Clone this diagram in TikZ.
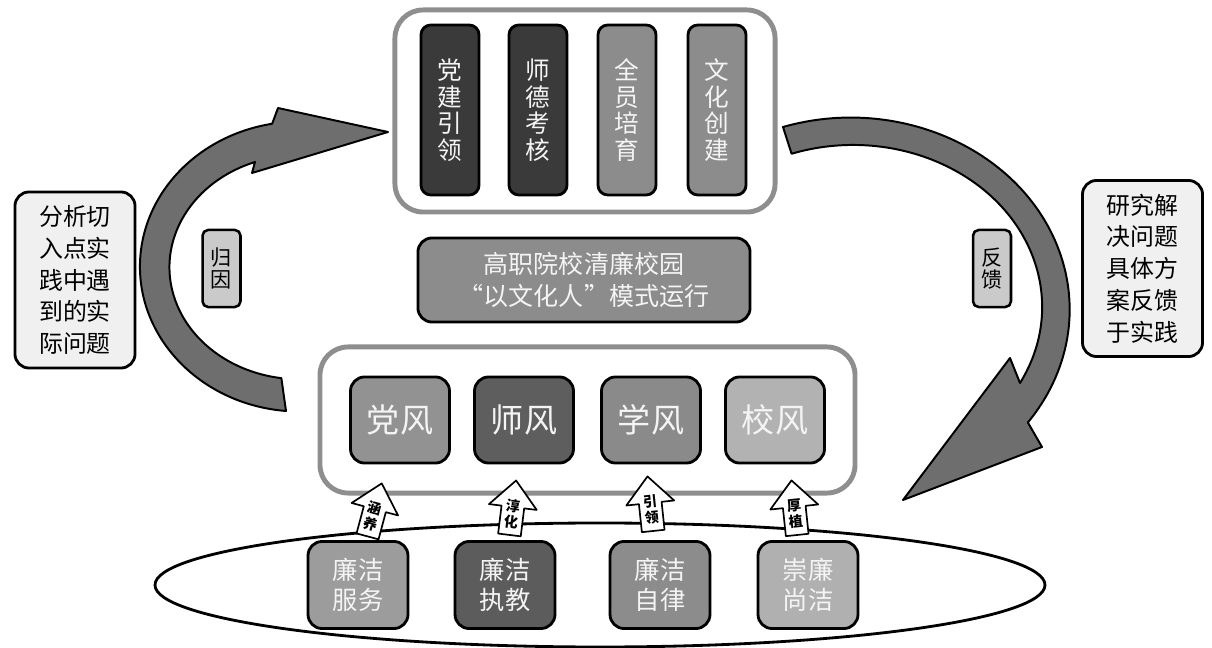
\documentclass[tikz,border=0pt]{standalone}
\usepackage{fontspec}
\setmainfont{Noto Sans CJK SC}
\usetikzlibrary{shapes.arrows}
\definecolor{barDark}{HTML}{3A3A3A}
\definecolor{barGray}{HTML}{8C8C8C}
\definecolor{frameGray}{HTML}{8E8E8E}
\definecolor{arcGray}{HTML}{6E6E6E}
\definecolor{noteFill}{HTML}{F0F0F0}
\definecolor{tagFill}{HTML}{CACACA}
\definecolor{softWhite}{HTML}{F4F4F4}
\begin{document}
\begin{tikzpicture}[x=0.025cm, y=-0.025cm, line join=round,
    frame/.style={draw=frameGray, line width=3.5pt, rounded corners=20pt},
    bar/.style={draw=black, line width=2pt, rounded corners=7pt, minimum width=41.3pt, minimum height=120.9pt,
      text=softWhite, align=center, inner sep=0pt, font=\fontsize{17.5}{18.9}\selectfont},
    fengbox/.style={draw=black, line width=2pt, rounded corners=10pt, minimum width=70.4pt, minimum height=61.2pt,
      text=softWhite, font=\fontsize{23.5}{26}\selectfont},
    basebox/.style={draw=black, line width=2pt, rounded corners=10pt, minimum width=71.1pt, minimum height=61.9pt,
      text=softWhite, align=center, inner sep=0pt, font=\fontsize{18}{21.3}\selectfont},
    note/.style={draw=black, fill=noteFill, line width=2pt, rounded corners=10pt, minimum width=85.4pt, minimum height=125.2pt,
      align=center, inner sep=0pt, font=\fontsize{17}{22.6}\selectfont},
    tag/.style={draw=black, fill=tagFill, line width=1.8pt, rounded corners=4pt, minimum width=27pt, minimum height=54.8pt,
      align=center, inner sep=0pt, font=\fontsize{15}{15.8}\selectfont},
    uparrow/.style={single arrow, shape border rotate=90, draw=black, fill=white, line width=1.2pt,
      single arrow head extend=9pt, single arrow tip angle=84, minimum height=39pt,
      inner xsep=2.5pt, inner ysep=1pt, align=center, font=\bfseries\fontsize{10}{11.5}\selectfont},
    bigarc/.style={draw=black, fill=arcGray, line width=1.4pt}]
  \useasboundingbox (0,0) rectangle (1212,648);
  % top group
  \node[frame, minimum width=270.3pt, minimum height=143.7pt] (top) at (585,111) {};
  \foreach \x/\t/\c [count=\i] in {450/党\\建\\引\\领/barDark, 538/师\\德\\考\\核/barDark,
      627/全\\员\\培\\育/barGray, 717/文\\化\\创\\建/barGray}
    \node[bar, fill=\c] (bar\i) at (\x,110) {\t};
  \node[draw=black, fill=barGray, line width=2pt, rounded corners=10pt, minimum width=236.2pt, minimum height=59.8pt,
    text=softWhite, align=center, font=\fontsize{17.8}{22.8}\selectfont] (mode) at (584,280)
    {高职院校清廉校园\\“以文化人”模式运行};
  % middle group
  \node[frame, minimum width=380.5pt, minimum height=103.9pt] (mid) at (587.5,420) {};
  \foreach \x/\t/\c [count=\i] in {400/党风/929292, 524/师风/5E5E5E, 651/学风/8A8A8A, 775/校风/B2B2B2}{
    \definecolor{fc}{HTML}{\c}
    \node[fengbox, fill=fc] (feng\i) at (\x,420) {\t};
  }
  % bottom ellipse
  \draw[line width=2pt, fill=white] (600,585) ellipse [x radius=445, y radius=62];
  \foreach \x/\t/\c [count=\i] in {358/廉洁\\服务/9C9C9C, 505/廉洁\\执教/5C5C5C, 660/廉洁\\自律/8C8C8C, 808/崇廉\\尚洁/B0B0B0}{
    \definecolor{fc}{HTML}{\c}
    \node[basebox, fill=fc] (base\i) at (\x,585) {\t};
  }
  \foreach \x/\y/\a/\t [count=\i] in {373/516/-15/涵\\养, 512/514/-7/淳\\化, 651/510/6/引\\领, 795/514/6/厚\\植}
    \node[uparrow, rotate=\a] (up\i) at (\x,\y) {\t};
  % big arrows
  \draw[bigarc] (286,411) arc[start angle=95, end angle=260, x radius=160, y radius=145]
    -- (278,108) -- (388,132) -- (252,173) -- (255,162)
    arc[start angle=250, end angle=98, x radius=130, y radius=112] -- cycle;
  \draw[bigarc] (783,127) arc[start angle=-108, end angle=36, x radius=219, y radius=192]
    -- (1042,447) -- (903,500) -- (1010,358) -- (1020,383)
    arc[start angle=28, end angle=-109, x radius=189, y radius=162] -- cycle;
  \node[tag] (cause) at (221.5,268.5) {归\\因};
  \node[tag] (back) at (992,268.5) {反\\馈};
  \node[note] (left) at (75,280) {分析切\\入点实\\践中遇\\到的实\\际问题};
  \node[note] (right) at (1142.5,268.5) {研究解\\决问题\\具体方\\案反馈\\于实践};
\end{tikzpicture}
\end{document}
